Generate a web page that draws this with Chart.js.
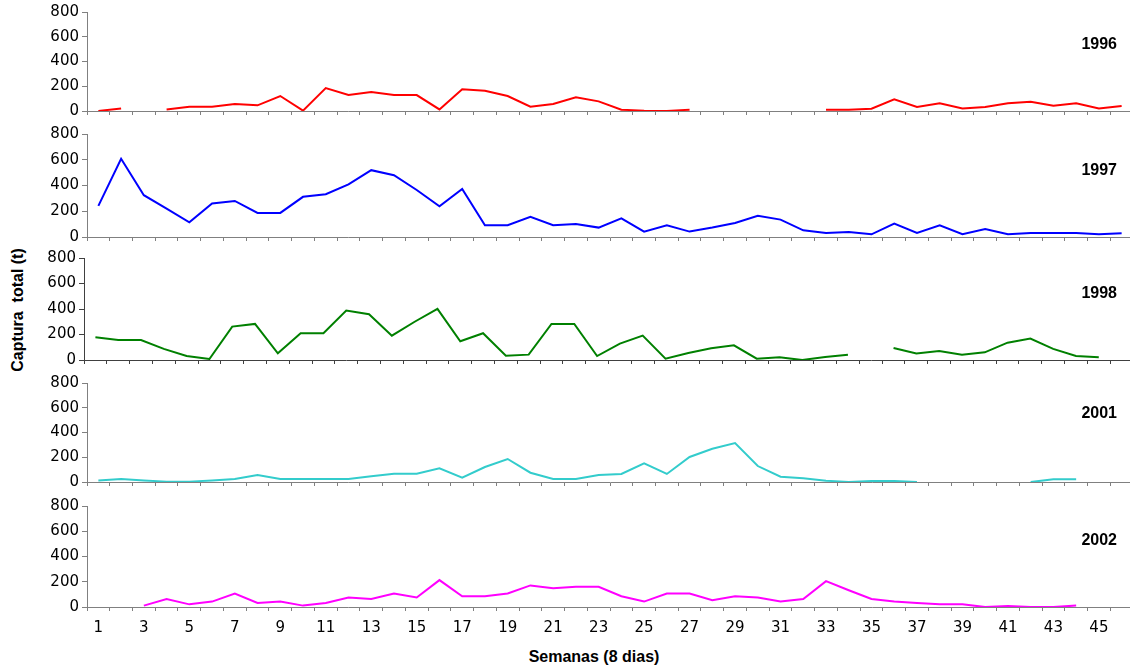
<!DOCTYPE html>
<html>
<head>
<meta charset="utf-8">
<script src="https://cdn.jsdelivr.net/npm/chart.js@4.4.1/dist/chart.umd.min.js"></script>
<style>
  html, body { margin: 0; padding: 0; background: #fff; overflow: hidden; }
  #wrap { position: relative; width: 1130px; height: 666px; overflow: hidden; }
  .panel { position: absolute; left: 0; }
  .year { position: absolute; right: 13px; font: bold 16px "Liberation Sans", Arial, sans-serif; color: #000; transform: translateY(-50%); }
  #ytitle { position: absolute; left: 18px; top: 310px; transform: translate(-50%, -50%) rotate(-90deg); font: bold 16px "Liberation Sans", Arial, sans-serif; white-space: pre; }
  #xtitle { position: absolute; left: 594px; top: 657px; transform: translate(-50%, -50%); font: bold 16px "Liberation Sans", Arial, sans-serif; white-space: nowrap; }
</style>
</head>
<body>
<div id="wrap">
  <div id="ytitle">Captura  total (t)</div>
  <div id="xtitle">Semanas (8 dias)</div>
</div>
<script>
const weeks = ['1','2','3','4','5','6','7','8','9','10','11','12','13','14','15','16','17','18','19','20','21','22','23',
  '24','25','26','27','28','29','30','31','32','33','34','35','36','37','38','39','40','41','42','43','44','45','46'];

// captura total (t) por semana, null = sin dato
const captura1996 = [0, 21, null, 13, 35, 35, 56, 46, 121, 3, 185, 129, 153, 129, 129, 13, 175, 164, 121, 35, 56, 110, 78,
  11, 3, 0, 11, null, null, null, null, null, 11, 11, 19, 94, 32, 62, 21, 32, 62, 75, 43, 62, 21, 40];
const captura1997 = [242, 608, 325, 220, 114, 260, 280, 187, 187, 312, 332, 408, 519, 480, 365, 239, 374, 91, 91, 156, 91, 101, 73,
  145, 42, 91, 42, 73, 109, 164, 135, 52, 31, 39, 21, 104, 31, 91, 21, 62, 21, 31, 31, 31, 21, 29];
const captura1998 = [178, 157, 157, 87, 31, 8, 262, 283, 52, 210, 210, 388, 359, 191, 300, 401, 147, 210, 34, 42, 283, 283, 31,
  129, 191, 10, 55, 92, 115, 10, 21, 0, 24, 42, null, 94, 52, 71, 42, 60, 136, 168, 87, 31, 21, null];
const captura2001 = [13, 24, 13, 3, 3, 13, 24, 57, 24, 24, 24, 24, 46, 67, 67, 110, 35, 121, 186, 75, 24, 24, 57,
  65, 151, 65, 202, 269, 315, 129, 43, 30, 11, 0, 8, 8, 0, null, null, null, null, 0, 22, 22, null, null];
const captura2002 = [null, null, 11, 64, 21, 43, 107, 32, 43, 11, 32, 75, 64, 107, 75, 213, 85, 85, 107, 171, 149, 160, 160,
  85, 43, 107, 107, 53, 85, 75, 43, 64, 205, 133, 64, 43, 32, 21, 21, 0, 8, 0, 0, 11, null, null];

const yTicks = [0, 200, 400, 600, 800];

const panels = [
  { year: '1996', data: captura1996, color: '#FF0000', top: 12, plotH: 99, yW: 87, axis: '#808080', labelY: 44 },
  { year: '1997', data: captura1997, color: '#0000FF', top: 134, plotH: 103, yW: 87, axis: '#808080', labelY: 170 },
  { year: '1998', data: captura1998, color: '#008000', top: 258, plotH: 102, yW: 84, axis: '#404040', labelY: 293 },
  { year: '2001', data: captura2001, color: '#33CCCC', top: 383, plotH: 99, yW: 87, axis: '#808080', labelY: 413 },
  { year: '2002', data: captura2002, color: '#FF00FF', top: 506, plotH: 101, yW: 87, axis: '#808080', labelY: 540 }
];

const tickFont = { family: '"DejaVu Sans", sans-serif', size: 15 };
const wrap = document.getElementById('wrap');
const W = 1134;

function chartConfig(p, last, xH, padTop) {
  return {
    type: 'line',
    data: {
      labels: weeks,
      datasets: [{
        label: p.year,
        data: p.data,
        borderColor: p.color,
        borderWidth: 2,
        pointRadius: 0,
        tension: 0,
        fill: false,
        spanGaps: false
      }]
    },
    options: {
      responsive: false,
      animation: false,
      events: [],
      layout: { padding: { top: padTop, right: 1, left: 0, bottom: 0 } },
      scales: {
        x: {
          type: 'category',
          offset: true,
          grid: { offset: true, drawOnChartArea: false, tickLength: 4, color: p.axis },
          border: { color: p.axis, width: 1 },
          ticks: {
            display: last,
            autoSkip: false,
            maxRotation: 0,
            padding: 8,
            color: '#000',
            font: tickFont,
            callback: (v, idx) => idx % 2 === 0 ? weeks[idx] : ''
          },
          afterFit: a => { a.height = xH; }
        },
        y: {
          min: 0,
          max: 800,
          afterBuildTicks: a => { a.ticks = yTicks.map(v => ({ value: v })); },
          ticks: { padding: 3, color: '#000', font: tickFont },
          grid: { drawOnChartArea: false, tickLength: 5, color: p.axis },
          border: { color: p.axis, width: 1 },
          afterFit: a => { a.width = p.yW; }
        }
      },
      plugins: { legend: { display: false }, tooltip: { enabled: false } }
    }
  };
}

function makePanel(p, i) {
  const last = i === panels.length - 1;
  const xH = last ? 32 : 6;
  const padTop = 10;
  let h = padTop + p.plotH + xH;

  const div = document.createElement('div');
  div.className = 'panel';
  wrap.appendChild(div);

  const lbl = document.createElement('div');
  lbl.className = 'year';
  lbl.style.top = p.labelY + 'px';
  lbl.textContent = p.year;
  wrap.appendChild(lbl);

  const build = () => {
    div.innerHTML = '';
    div.style.width = W + 'px';
    div.style.height = h + 'px';
    const cv = document.createElement('canvas');
    cv.width = W;
    cv.height = h;
    div.appendChild(cv);
    return new Chart(cv, chartConfig(p, last, xH, padTop));
  };

  let chart = build();
  // the layout eats a few pixels, so rebuild taller until the plot has the wanted height
  for (let k = 0; k < 3; k++) {
    const y = chart.scales.y;
    const dh = Math.round(p.plotH - (y.getPixelForValue(0) - y.getPixelForValue(800)));
    if (dh === 0) break;
    chart.destroy();
    h += dh;
    chart = build();
  }
  div.style.top = (p.top - chart.scales.y.getPixelForValue(800)) + 'px';
}

panels.forEach(makePanel);
</script>
</body>
</html>
